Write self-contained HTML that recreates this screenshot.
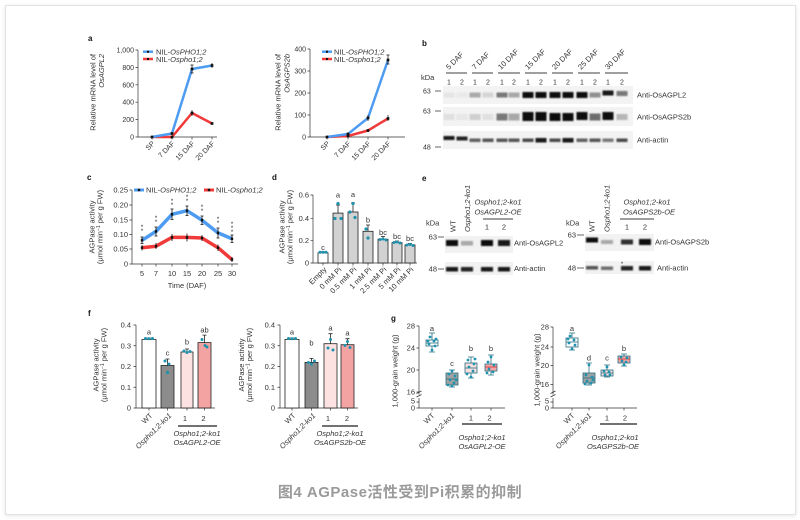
<!DOCTYPE html>
<html><head><meta charset="utf-8">
<style>
html,body{margin:0;padding:0;background:#fff;}
body{width:800px;height:520px;position:relative;overflow:hidden;}
.card{position:absolute;left:5px;top:5px;width:789px;height:508px;border:1px solid #e3e3e3;box-shadow:0 1px 4px rgba(0,0,0,0.10);background:#fff;}
svg{position:absolute;left:0;top:0;}
text{font-family:"Liberation Sans",Arial,sans-serif;fill:#333;}
.tk{font-size:7px;}
.tk2{font-size:7.5px;}
.lg{font-size:7.5px;}
.pl{font-size:8px;font-weight:bold;fill:#111;}
.it{font-style:italic;}
.cap{font-family:"Liberation Sans","Noto Sans CJK SC",sans-serif;font-size:15px;font-weight:bold;fill:#9a9a9a;letter-spacing:0.5px;}
</style></head>
<body>
<div class="card"></div>
<svg width="800" height="520" viewBox="0 0 800 520" xmlns="http://www.w3.org/2000/svg">
<defs>
<filter id="bl" x="-50%" y="-80%" width="200%" height="260%"><feGaussianBlur stdDeviation="0.9"/></filter>
</defs>

<!-- panel labels -->
<text class="pl" x="88" y="41">a</text>
<text class="pl" x="422" y="46">b</text>
<text class="pl" x="87" y="180">c</text>
<text class="pl" x="272" y="180">d</text>
<text class="pl" x="422" y="181">e</text>
<text class="pl" x="88" y="316">f</text>
<text class="pl" x="391" y="321">g</text>

<!-- ===== Panel a left ===== -->
<g stroke="#333" stroke-width="0.7" fill="none">
<path d="M138,50V137H217"/>
<path d="M135.5,50H138M135.5,67.4H138M135.5,84.8H138M135.5,102.2H138M135.5,119.6H138M135.5,137H138"/>
<path d="M152,137v2.5M172,137v2.5M192,137v2.5M212,137v2.5"/>
</g>
<g class="tk" text-anchor="end">
<text x="134" y="52.5">1,000</text><text x="134" y="69.9">800</text><text x="134" y="87.3">600</text>
<text x="134" y="104.7">400</text><text x="134" y="122.1">200</text><text x="134" y="139.5">0</text>
</g>
<text class="tk2" transform="translate(95.5,54) rotate(-90)" text-anchor="end">Relative mRNA level of</text>
<text class="tk2 it" transform="translate(104,54) rotate(-90)" text-anchor="end">OsAGPL2</text>
<polyline points="152,137 172,137 192,113 212,123.5" stroke="#f03a3a" stroke-width="2.5" fill="none" stroke-linejoin="round"/>
<polyline points="152,137 172,133.5 192,69 212,65.5" stroke="#4d9cf2" stroke-width="2.5" fill="none" stroke-linejoin="round"/>
<g fill="#111" stroke="#111" stroke-width="0.7">
<rect x="151" y="136" width="2" height="2"/><rect x="171" y="132.5" width="2" height="2"/><rect x="191" y="68" width="2" height="2"/><rect x="211" y="64.5" width="2" height="2"/>
<rect x="171" y="136" width="2" height="2"/><rect x="191" y="112" width="2" height="2"/><rect x="211" y="122.5" width="2" height="2"/>
<path d="M192,65v8M190.5,65h3M190.5,73h3M192,110v6M212,63v5M192,110h0"/>
</g>
<g class="tk" text-anchor="end">
<text transform="translate(155,144) rotate(-45)">SP</text>
<text transform="translate(175,144) rotate(-45)">7 DAF</text>
<text transform="translate(195,144) rotate(-45)">15 DAF</text>
<text transform="translate(215,144) rotate(-45)">20 DAF</text>
</g>
<line x1="143" y1="51.7" x2="153" y2="51.7" stroke="#4d9cf2" stroke-width="2.5"/>
<rect x="147" y="50.7" width="2" height="2" fill="#111"/>
<text class="lg" x="156" y="54.5">NIL-<tspan class="it">OsPHO1;2</tspan></text>
<line x1="143" y1="59" x2="153" y2="59" stroke="#f03a3a" stroke-width="2.5"/>
<rect x="147" y="58" width="2" height="2" fill="#111"/>
<text class="lg" x="156" y="61.8">NIL-<tspan class="it">Ospho1;2</tspan></text>

<!-- ===== Panel a right ===== -->
<g stroke="#333" stroke-width="0.7" fill="none">
<path d="M310,49V137H405"/>
<path d="M307.5,49H310M307.5,71H310M307.5,93H310M307.5,115H310M307.5,137H310"/>
<path d="M327,137v2.5M348,137v2.5M368,137v2.5M388,137v2.5"/>
</g>
<g class="tk" text-anchor="end">
<text x="306" y="51.5">400</text><text x="306" y="73.5">300</text><text x="306" y="95.5">200</text>
<text x="306" y="117.5">100</text><text x="306" y="139.5">0</text>
</g>
<text class="tk2" transform="translate(280.5,54) rotate(-90)" text-anchor="end">Relative mRNA level of</text>
<text class="tk2 it" transform="translate(289.5,54) rotate(-90)" text-anchor="end">OsAGPS2b</text>
<polyline points="327,137 348,136 368,130.5 388,118.5" stroke="#f03a3a" stroke-width="2.5" fill="none" stroke-linejoin="round"/>
<polyline points="327,137 348,134 368,118 388,60" stroke="#4d9cf2" stroke-width="2.5" fill="none" stroke-linejoin="round"/>
<g fill="#111" stroke="#111" stroke-width="0.7">
<rect x="326" y="136" width="2" height="2"/><rect x="347" y="133" width="2" height="2"/><rect x="367" y="117" width="2" height="2"/><rect x="387" y="59" width="2" height="2"/>
<rect x="347" y="135" width="2" height="2"/><rect x="367" y="129.5" width="2" height="2"/><rect x="387" y="117.5" width="2" height="2"/>
<path d="M388,55v9M386.5,55h3M386.5,64h3M368,115v6M388,115v6"/>
</g>
<g class="tk" text-anchor="end">
<text transform="translate(330,144) rotate(-45)">SP</text>
<text transform="translate(351,144) rotate(-45)">7 DAF</text>
<text transform="translate(371,144) rotate(-45)">15 DAF</text>
<text transform="translate(391,144) rotate(-45)">20 DAF</text>
</g>
<line x1="322" y1="51.7" x2="332" y2="51.7" stroke="#4d9cf2" stroke-width="2.5"/>
<rect x="326" y="50.7" width="2" height="2" fill="#111"/>
<text class="lg" x="334" y="54.5">NIL-<tspan class="it">OsPHO1;2</tspan></text>
<line x1="322" y1="59" x2="332" y2="59" stroke="#f03a3a" stroke-width="2.5"/>
<rect x="326" y="58" width="2" height="2" fill="#111"/>
<text class="lg" x="334" y="61.8">NIL-<tspan class="it">Ospho1;2</tspan></text>

<!-- ===== Panel b ===== -->
<g class="tk2">
<text transform="translate(449,70) rotate(-45)">5 DAF</text>
<text transform="translate(475,70) rotate(-45)">7 DAF</text>
<text transform="translate(501,70) rotate(-45)">10 DAF</text>
<text transform="translate(528,70) rotate(-45)">15 DAF</text>
<text transform="translate(555,70) rotate(-45)">20 DAF</text>
<text transform="translate(581,70) rotate(-45)">25 DAF</text>
<text transform="translate(608,70) rotate(-45)">30 DAF</text>
</g>
<g stroke="#666" stroke-width="1.3">
<path d="M446,73H467M472,73H493M498,73H520M525,73H547M552,73H573M578,73H600M605,73H628"/>
</g>
<text class="tk2" x="421" y="80">kDa</text>
<g class="tk" text-anchor="middle">
<text x="449" y="84.5">1</text><text x="462" y="84.5">2</text><text x="475" y="84.5">1</text><text x="488" y="84.5">2</text>
<text x="502" y="84.5">1</text><text x="514" y="84.5">2</text><text x="528" y="84.5">1</text><text x="541" y="84.5">2</text>
<text x="555" y="84.5">1</text><text x="568" y="84.5">2</text><text x="582" y="84.5">1</text><text x="595" y="84.5">2</text>
<text x="608" y="84.5">1</text><text x="622" y="84.5">2</text>
</g>
<rect x="443" y="86" width="190" height="18" fill="#f3f3f3"/>
<rect x="443" y="107" width="190" height="19" fill="#f3f3f3"/>
<rect x="443" y="131" width="190" height="18" fill="#f3f3f3"/>
<g fill="#111" filter="url(#bl)">
<rect x="443.5" y="92.5" width="11" height="5" fill-opacity="0.06"/>
<rect x="456.5" y="92.5" width="11" height="5" fill-opacity="0.04"/>
<rect x="469.5" y="92.5" width="11" height="5" fill-opacity="0.3"/>
<rect x="482.5" y="92.5" width="11" height="5" fill-opacity="0.12"/>
<rect x="496.5" y="92.5" width="11" height="5" fill-opacity="0.55"/>
<rect x="508.5" y="92.5" width="11" height="5" fill-opacity="0.35"/>
<rect x="522.5" y="92" width="11" height="6" fill-opacity="1"/>
<rect x="535.5" y="92" width="11" height="6" fill-opacity="1"/>
<rect x="549.5" y="92" width="11" height="6" fill-opacity="1"/>
<rect x="562.5" y="92" width="11" height="6" fill-opacity="1"/>
<rect x="576.5" y="92" width="11" height="6" fill-opacity="1"/>
<rect x="589.5" y="92.5" width="11" height="5" fill-opacity="0.45"/>
<rect x="602.5" y="90.5" width="11" height="5" fill-opacity="0.95"/>
<rect x="616.5" y="91" width="11" height="5" fill-opacity="0.55"/>

<rect x="443.5" y="114" width="11" height="6" fill-opacity="0.08"/>
<rect x="456.5" y="114" width="11" height="6" fill-opacity="0.05"/>
<rect x="469.5" y="114" width="11" height="6" fill-opacity="0.15"/>
<rect x="482.5" y="114" width="11" height="6" fill-opacity="0.08"/>
<rect x="496.5" y="113.5" width="11" height="7" fill-opacity="0.55"/>
<rect x="508.5" y="113.5" width="11" height="7" fill-opacity="0.35"/>
<rect x="522.5" y="112" width="11" height="9" fill-opacity="1"/>
<rect x="535.5" y="112" width="11" height="9" fill-opacity="1"/>
<rect x="549.5" y="113" width="11" height="8" fill-opacity="1"/>
<rect x="562.5" y="113" width="11" height="8" fill-opacity="1"/>
<rect x="576.5" y="112" width="11" height="8" fill-opacity="1"/>
<rect x="589.5" y="113.5" width="11" height="7" fill-opacity="0.6"/>
<rect x="602.5" y="112" width="11" height="8" fill-opacity="1"/>
<rect x="616.5" y="114" width="11" height="6" fill-opacity="0.25"/>

<rect x="443.5" y="136" width="11" height="4" fill-opacity="0.95"/>
<rect x="456.5" y="136.5" width="11" height="4" fill-opacity="0.9"/>
<rect x="469.5" y="138.5" width="11" height="3.5" fill-opacity="0.65"/>
<rect x="482.5" y="138.5" width="11" height="3.5" fill-opacity="0.7"/>
<rect x="496.5" y="138.5" width="11" height="3.5" fill-opacity="0.7"/>
<rect x="508.5" y="138.5" width="11" height="3.5" fill-opacity="0.7"/>
<rect x="522.5" y="138.5" width="11" height="3.5" fill-opacity="0.75"/>
<rect x="535.5" y="138" width="11" height="4.5" fill-opacity="0.95"/>
<rect x="549.5" y="138.5" width="11" height="3.5" fill-opacity="0.75"/>
<rect x="562.5" y="138" width="11" height="4.5" fill-opacity="0.95"/>
<rect x="576.5" y="138.5" width="11" height="3.5" fill-opacity="0.65"/>
<rect x="589.5" y="138.5" width="11" height="3.5" fill-opacity="0.7"/>
<rect x="602.5" y="138.5" width="11" height="3.5" fill-opacity="0.55"/>
<rect x="616.5" y="138.5" width="11" height="3.5" fill-opacity="0.75"/>
</g>
<g class="tk">
<text x="423" y="93.5">63</text><text x="423" y="113.5">63</text><text x="423" y="149.5">48</text>
</g>
<g stroke="#333" stroke-width="0.8"><path d="M435,91H441M435,111H441M435,147H441"/></g>
<g class="tk2">
<text x="637" y="97.5">Anti-OsAGPL2</text>
<text x="637" y="119.5">Anti-OsAGPS2b</text>
<text x="637" y="142.5">Anti-actin</text>
</g>

<!-- ===== Panel c ===== -->
<g stroke="#333" stroke-width="0.7" fill="none">
<path d="M132,190V264H238"/>
<path d="M129.5,190H132M129.5,205H132M129.5,220H132M129.5,234.5H132M129.5,249H132M129.5,264H132"/>
<path d="M142,264v2.5M156,264v2.5M172,264v2.5M187,264v2.5M202,264v2.5M218,264v2.5M232,264v2.5"/>
</g>
<g class="tk2" text-anchor="end">
<text x="128" y="192.6">0.25</text><text x="128" y="207.6">0.20</text><text x="128" y="222.6">0.15</text>
<text x="128" y="237.1">0.10</text><text x="128" y="251.6">0.05</text><text x="128" y="266.6">0</text>
</g>
<g class="tk2" text-anchor="middle">
<text x="142" y="276">5</text><text x="156" y="276">7</text><text x="172" y="276">10</text><text x="187" y="276">15</text>
<text x="202" y="276">20</text><text x="218" y="276">25</text><text x="232" y="276">30</text>
<text x="187" y="288">Time (DAF)</text>
<text transform="translate(94.5,227) rotate(-90)">AGPase activity</text>
<text transform="translate(102.5,227) rotate(-90)">(μmol min<tspan dy="-2.5" font-size="5">−1</tspan><tspan dy="2.5"> per g FW)</tspan></text>
</g>
<polyline points="142,247.7 156,246.2 172,237.4 187,237.4 202,238 218,247.7 232,259.6" stroke="#f03a3a" stroke-width="3.5" fill="none" stroke-linejoin="round"/>
<polyline points="142,240.3 156,231.4 172,214.3 187,210.7 202,220.2 218,232.9 232,238.8" stroke="#4d9cf2" stroke-width="3.5" fill="none" stroke-linejoin="round"/>
<g stroke="#111" stroke-width="0.8">
<path d="M142,237v6.5M156,227v9M172,209v10.5M187,206v9.5M202,216v8.5M218,228v10M232,235v7.5"/>
<path d="M142,245v5.5M156,243v6M172,234v7M187,233.5v8M202,235v6M218,244.5v6.5M232,257v5"/>
<path d="M140.5,237h3M140.5,243.5h3M154.5,227h3M154.5,236h3M170.5,209h3M170.5,219.5h3M185.5,206h3M185.5,215.5h3M200.5,216h3M200.5,224.5h3M216.5,228h3M216.5,238h3M230.5,235h3M230.5,242.5h3"/>
</g>
<g fill="#111">
<rect x="140.8" y="239.1" width="2.4" height="2.4"/><rect x="154.8" y="230.2" width="2.4" height="2.4"/><rect x="170.8" y="213.1" width="2.4" height="2.4"/><rect x="185.8" y="209.5" width="2.4" height="2.4"/><rect x="200.8" y="219" width="2.4" height="2.4"/><rect x="216.8" y="231.7" width="2.4" height="2.4"/><rect x="230.8" y="237.6" width="2.4" height="2.4"/>
<rect x="140.8" y="246.5" width="2.4" height="2.4"/><rect x="154.8" y="245" width="2.4" height="2.4"/><rect x="170.8" y="236.2" width="2.4" height="2.4"/><rect x="185.8" y="236.2" width="2.4" height="2.4"/><rect x="200.8" y="236.8" width="2.4" height="2.4"/><rect x="216.8" y="246.5" width="2.4" height="2.4"/><rect x="230.8" y="258.4" width="2.4" height="2.4"/>
</g>
<g font-size="6.5" text-anchor="middle" fill="#333">
<text x="142" y="229">*</text><text x="142" y="233">*</text>
<text x="156" y="220">*</text><text x="156" y="224">*</text>
<text x="172" y="203">*</text><text x="172" y="207">*</text>
<text x="187" y="199">*</text><text x="187" y="203">*</text>
<text x="202" y="209">*</text><text x="202" y="213">*</text>
<text x="218" y="221">*</text><text x="218" y="225">*</text>
<text x="232" y="226">*</text><text x="232" y="230">*</text><text x="232" y="234">*</text>
</g>
<line x1="134" y1="190" x2="144" y2="190" stroke="#4d9cf2" stroke-width="3"/>
<rect x="137.8" y="188.8" width="2.4" height="2.4" fill="#111"/>
<text class="lg" x="146" y="192.7">NIL-<tspan class="it">OsPHO1;2</tspan></text>
<line x1="204" y1="190" x2="214" y2="190" stroke="#f03a3a" stroke-width="3"/>
<rect x="207.8" y="188.8" width="2.4" height="2.4" fill="#111"/>
<text class="lg" x="216" y="192.7">NIL-<tspan class="it">Ospho1;2</tspan></text>

<!-- ===== Panel d ===== -->
<g stroke="#333" stroke-width="0.7" fill="none">
<path d="M313,195V263H417"/>
<path d="M310.5,195H313M310.5,218.3H313M310.5,240.3H313M310.5,263H313"/>
<path d="M323,263v2.5M338,263v2.5M353,263v2.5M368,263v2.5M383,263v2.5M397,263v2.5M410,263v2.5"/>
</g>
<g class="tk2" text-anchor="end">
<text x="309" y="197.6">0.6</text><text x="309" y="220.9">0.4</text><text x="309" y="242.9">0.2</text><text x="309" y="265.6">0</text>
</g>
<g class="tk2" text-anchor="middle">
<text transform="translate(284.5,227) rotate(-90)">AGPase activity</text>
<text transform="translate(292.5,227) rotate(-90)">(μmol min<tspan dy="-2.5" font-size="5">−1</tspan><tspan dy="2.5"> per g FW)</tspan></text>
</g>
<g stroke="#222" stroke-width="0.8">
<rect x="318" y="252.8" width="10" height="10.2" fill="#fff"/>
<rect x="333" y="213.1" width="10" height="49.9" fill="#d2d2d2"/>
<rect x="348" y="212" width="10" height="51" fill="#d2d2d2"/>
<rect x="363" y="231.3" width="10" height="31.7" fill="#d2d2d2"/>
<rect x="378" y="239.2" width="10" height="23.8" fill="#d2d2d2"/>
<rect x="392" y="242.6" width="10" height="20.4" fill="#d2d2d2"/>
<rect x="405" y="244.9" width="10" height="18.1" fill="#d2d2d2"/>
<path d="M338,213v-8M336,205h4M353,212v-9M351,203h4M368,231v-6M366,225h4M383,239v-2.5M381,236.5h4M397,242.5v-1.5M395,241h4M410,245v-1.5M408,243.5h4M323,252.8v-1M321,251.8h4"/>
</g>
<g fill="#1f93ad">
<circle cx="320" cy="252.3" r="1.5"/><circle cx="323" cy="252.3" r="1.5"/><circle cx="326" cy="252.3" r="1.5"/>
<circle cx="338" cy="203.5" r="1.6"/><circle cx="335" cy="218.5" r="1.6"/><circle cx="341" cy="218.5" r="1.6"/>
<circle cx="353" cy="203.5" r="1.6"/><circle cx="350" cy="212" r="1.6"/><circle cx="355" cy="217.5" r="1.6"/>
<circle cx="366" cy="229" r="1.6"/><circle cx="368" cy="238" r="1.6"/>
<circle cx="380" cy="239.5" r="1.5"/><circle cx="383" cy="239" r="1.5"/><circle cx="386" cy="240" r="1.5"/>
<circle cx="394" cy="242.5" r="1.5"/><circle cx="397" cy="242" r="1.5"/><circle cx="400" cy="243" r="1.5"/>
<circle cx="407" cy="245" r="1.5"/><circle cx="410" cy="244.5" r="1.5"/><circle cx="413" cy="245.5" r="1.5"/>
</g>
<g class="tk2" text-anchor="middle">
<text x="323" y="250">c</text><text x="338" y="197.5">a</text><text x="353" y="197">a</text><text x="368" y="222.5">b</text>
<text x="383" y="235">bc</text><text x="397" y="239">bc</text><text x="410" y="241">bc</text>
</g>
<g class="tk2" text-anchor="end">
<text transform="translate(327,270) rotate(-45)">Empty</text>
<text transform="translate(342,270) rotate(-45)">0 mM Pi</text>
<text transform="translate(357,270) rotate(-45)">0.5 mM Pi</text>
<text transform="translate(372,270) rotate(-45)">1 mM Pi</text>
<text transform="translate(387,270) rotate(-45)">2.5 mM Pi</text>
<text transform="translate(401,270) rotate(-45)">5 mM Pi</text>
<text transform="translate(414,270) rotate(-45)">10 mM Pi</text>
</g>

<!-- ===== Panel e left ===== -->
<text class="tk2" x="426" y="225.5">kDa</text>
<text class="tk2" transform="translate(455.5,232) rotate(-90)">WT</text>
<text class="tk2 it" transform="translate(470,232) rotate(-90)">Ospho1;2-ko1</text>
<text class="tk2 it" x="498" y="204.5" text-anchor="middle">Ospho1;2-ko1</text>
<text class="tk2 it" x="498" y="214.5" text-anchor="middle">OsAGPL2-OE</text>
<line x1="483" y1="219" x2="513" y2="219" stroke="#666" stroke-width="1.2"/>
<text class="tk2" x="487" y="229.5" text-anchor="middle">1</text>
<text class="tk2" x="504" y="229.5" text-anchor="middle">2</text>
<rect x="445" y="236" width="68" height="17" fill="#f2f2f2"/>
<rect x="445" y="262" width="68" height="13" fill="#f2f2f2"/>
<g fill="#111" filter="url(#bl)">
<rect x="446" y="240" width="12" height="6" fill-opacity="1"/>
<rect x="461" y="241" width="12" height="4.5" fill-opacity="0.3"/>
<rect x="481" y="240" width="12" height="6" fill-opacity="1"/>
<rect x="498" y="240" width="12" height="6" fill-opacity="0.95"/>
<rect x="446" y="267" width="12" height="4.5" fill-opacity="0.95"/>
<rect x="461" y="267" width="12" height="4.5" fill-opacity="0.9"/>
<rect x="481" y="267" width="12" height="4.5" fill-opacity="0.95"/>
<rect x="498" y="267" width="12" height="4.5" fill-opacity="0.95"/>
</g>
<g class="tk2" text-anchor="end"><text x="437" y="239.5">63</text><text x="437" y="271.5">48</text></g>
<g stroke="#333" stroke-width="0.8"><path d="M438,237H444M438,269H444"/></g>
<text class="tk2" x="514" y="245.5">Anti-OsAGPL2</text>
<text class="tk2" x="514" y="271">Anti-actin</text>

<!-- ===== Panel e right ===== -->
<text class="tk2" x="566" y="225.5">kDa</text>
<text class="tk2" transform="translate(594.5,232) rotate(-90)">WT</text>
<text class="tk2 it" transform="translate(609.5,232) rotate(-90)">Ospho1;2-ko1</text>
<text class="tk2 it" x="647" y="204.5" text-anchor="middle">Ospho1;2-ko1</text>
<text class="tk2 it" x="649" y="214.5" text-anchor="middle">OsAGPS2b-OE</text>
<line x1="620" y1="219" x2="654" y2="219" stroke="#666" stroke-width="1.2"/>
<text class="tk2" x="627" y="229.5" text-anchor="middle">1</text>
<text class="tk2" x="645" y="229.5" text-anchor="middle">2</text>
<rect x="585" y="234" width="69" height="17" fill="#f2f2f2"/>
<rect x="585" y="261" width="69" height="13" fill="#f2f2f2"/>
<g fill="#111" filter="url(#bl)">
<rect x="586" y="237.5" width="12" height="5" fill-opacity="1"/>
<rect x="601" y="240" width="12" height="4" fill-opacity="0.3"/>
<rect x="621" y="239.5" width="12" height="5" fill-opacity="0.85"/>
<rect x="639" y="239" width="12" height="6" fill-opacity="1"/>
<rect x="586" y="266" width="12" height="3.5" fill-opacity="0.7"/>
<rect x="601" y="266.5" width="12" height="3.5" fill-opacity="0.6"/>
<rect x="621" y="266" width="12" height="4.5" fill-opacity="0.9"/>
<rect x="639" y="266" width="12" height="4.5" fill-opacity="0.95"/>
</g>
<text x="622" y="266" font-size="6" text-anchor="middle">*</text>
<g class="tk2" text-anchor="end"><text x="576" y="237.5">63</text><text x="576" y="270.5">48</text></g>
<g stroke="#333" stroke-width="0.8"><path d="M577,235H584M577,268H584"/></g>
<text class="tk2" x="655" y="244.5">Anti-OsAGPS2b</text>
<text class="tk2" x="657" y="270.5">Anti-actin</text>

<!-- ===== Panel f left ===== -->
<g stroke="#333" stroke-width="0.7" fill="none">
<path d="M136,325V408H215"/>
<path d="M133.5,325H136M133.5,345.75H136M133.5,366.5H136M133.5,387.25H136M133.5,408H136"/>
<path d="M149,408v2.5M167.5,408v2.5M187,408v2.5M204.5,408v2.5"/>
</g>
<g class="tk2" text-anchor="end">
<text x="131" y="327.6">0.4</text><text x="131" y="348.4">0.3</text><text x="131" y="369.1">0.2</text><text x="131" y="389.9">0.1</text><text x="131" y="410.6">0</text>
</g>
<g class="tk2" text-anchor="middle">
<text transform="translate(98.5,365) rotate(-90)">AGPase activity</text>
<text transform="translate(106.5,365) rotate(-90)">(μmol min<tspan dy="-2.5" font-size="5">−1</tspan><tspan dy="2.5"> per g FW)</tspan></text>
</g>
<g stroke="#222" stroke-width="0.8">
<rect x="142" y="339.5" width="14" height="68.5" fill="#fff"/>
<rect x="161" y="365.5" width="13" height="42.5" fill="#8c8c8c"/>
<rect x="181" y="352" width="12" height="56" fill="#fde2e2"/>
<rect x="198" y="342.6" width="13" height="65.4" fill="#f4a3a3"/>
<path d="M149,339.5v-1.5M147,338h4M167.5,365.5v-6.5M165.5,359h4M187,352v-3M185,349h4M204.5,342.6v-7.5M202.5,335.1h4"/>
</g>
<g fill="#1f93ad">
<circle cx="145.5" cy="338.5" r="1.5"/><circle cx="149" cy="338.8" r="1.5"/><circle cx="152.5" cy="338.5" r="1.5"/>
<circle cx="165" cy="361" r="1.5"/><circle cx="169" cy="364" r="1.5"/><circle cx="167.5" cy="372.5" r="1.6"/>
<circle cx="184" cy="351" r="1.5"/><circle cx="187" cy="352.5" r="1.5"/><circle cx="190" cy="351.5" r="1.5"/>
<circle cx="202" cy="339.5" r="1.5"/><circle cx="205" cy="345.5" r="1.5"/><circle cx="207" cy="347" r="1.5"/>
</g>
<g class="tk2" text-anchor="middle">
<text x="149" y="334.5">a</text><text x="167.5" y="355.5">c</text><text x="187" y="344.5">b</text><text x="204.5" y="332.5">ab</text>
<text x="185" y="421">1</text><text x="203.5" y="421">2</text>
<text class="it" x="197" y="436">Ospho1;2-ko1</text>
<text class="it" x="197" y="445">OsAGPL2-OE</text>
</g>
<g class="tk2" text-anchor="end">
<text transform="translate(153,416) rotate(-45)">WT</text>
<text class="it" transform="translate(172,416) rotate(-45)">Ospho1;2-ko1</text>
</g>
<line x1="178" y1="426" x2="217" y2="426" stroke="#444" stroke-width="1.6"/>

<!-- ===== Panel f right ===== -->
<g stroke="#333" stroke-width="0.7" fill="none">
<path d="M280,325V408H358"/>
<path d="M277.5,325H280M277.5,345.75H280M277.5,366.5H280M277.5,387.25H280M277.5,408H280"/>
<path d="M292,408v2.5M311.5,408v2.5M330.5,408v2.5M347.5,408v2.5"/>
</g>
<g class="tk2" text-anchor="end">
<text x="275" y="327.6">0.4</text><text x="275" y="348.4">0.3</text><text x="275" y="369.1">0.2</text><text x="275" y="389.9">0.1</text><text x="275" y="410.6">0</text>
</g>
<g class="tk2" text-anchor="middle">
<text transform="translate(244,365) rotate(-90)">AGPase activity</text>
<text transform="translate(252,365) rotate(-90)">(μmol min<tspan dy="-2.5" font-size="5">−1</tspan><tspan dy="2.5"> per g FW)</tspan></text>
</g>
<g stroke="#222" stroke-width="0.8">
<rect x="285" y="339.5" width="14" height="68.5" fill="#fff"/>
<rect x="305" y="362.4" width="13" height="45.6" fill="#8c8c8c"/>
<rect x="324" y="343.7" width="13" height="64.3" fill="#fde2e2"/>
<rect x="341" y="344.7" width="13" height="63.3" fill="#f4a3a3"/>
<path d="M292,339.5v-1.5M290,338h4M311.5,362.4v-4M309.5,358.4h4M330.5,343.7v-10M328.5,333.7h4M347.5,344.7v-6M345.5,338.7h4"/>
</g>
<g fill="#1f93ad">
<circle cx="288.5" cy="338.5" r="1.5"/><circle cx="292" cy="338.8" r="1.5"/><circle cx="295.5" cy="338.5" r="1.5"/>
<circle cx="308.5" cy="362.5" r="1.5"/><circle cx="311.5" cy="364" r="1.5"/><circle cx="314.5" cy="361" r="1.5"/>
<circle cx="330.5" cy="339.5" r="1.5"/><circle cx="328" cy="348" r="1.5"/><circle cx="333" cy="350" r="1.5"/>
<circle cx="347.5" cy="341.5" r="1.5"/><circle cx="345" cy="345.5" r="1.5"/><circle cx="350" cy="347.5" r="1.5"/>
</g>
<g class="tk2" text-anchor="middle">
<text x="292" y="334.5">a</text><text x="311.5" y="345.5">b</text><text x="330.5" y="330.5">a</text><text x="347.5" y="335.5">a</text>
<text x="328" y="421">1</text><text x="347" y="421">2</text>
<text class="it" x="340" y="436">Ospho1;2-ko1</text>
<text class="it" x="340" y="445">OsAGPS2b-OE</text>
</g>
<g class="tk2" text-anchor="end">
<text transform="translate(296,416) rotate(-45)">WT</text>
<text class="it" transform="translate(316,416) rotate(-45)">Ospho1;2-ko1</text>
</g>
<line x1="322" y1="426" x2="358" y2="426" stroke="#444" stroke-width="1.6"/>

<!-- ===== Panel g left ===== -->
<g stroke="#333" stroke-width="0.7" fill="none">
<path d="M419,326V394.5"/>
<path d="M419,398V408H505"/>
<path d="M416.5,393.5l5,-2.5M416.5,397l5,-2.5"/>
<path d="M416.5,326H419M416.5,348H419M416.5,370H419M416.5,392H419M416.5,402H419M416.5,408H419"/>
<path d="M432,408v2.5M452,408v2.5M471,408v2.5M491,408v2.5"/>
</g>
<g class="tk2" text-anchor="end">
<text x="415" y="328.6">28</text><text x="415" y="350.6">24</text><text x="415" y="372.6">20</text><text x="415" y="394.6">16</text>
<text x="415" y="403.5">5</text><text x="415" y="410.6">0</text>
</g>
<text class="tk2" transform="translate(397.5,371) rotate(-90)" text-anchor="middle">1,000-grain weight (g)</text>
<g stroke="#2a6e80" stroke-width="0.8">
<path d="M432,333v7M432,346v6M429,333h6M429,352h6"/>
<rect x="426" y="340" width="12" height="6" fill="#fff"/>
<path d="M426,343h12"/>
<path d="M452,370v3M452,385v2M449,370h6M449,387h6"/>
<rect x="446" y="373" width="12" height="12" fill="#a2a2a2"/>
<path d="M446,379h12"/>
<path d="M471,357v6M471,373v5M468,357h6M468,378h6"/>
<rect x="465" y="363" width="12" height="10" fill="#f9dede"/>
<path d="M465,368h12"/>
<path d="M491,355v9M491,371v4M488,355h6M488,375h6"/>
<rect x="485" y="364" width="12" height="7" fill="#f4a8a8"/>
<path d="M485,367h12" stroke="#d03030"/>
</g>
<g fill="#1f93ad">
<circle cx="430" cy="337" r="1.4"/><circle cx="434" cy="341" r="1.4"/><circle cx="429" cy="344" r="1.4"/><circle cx="435" cy="346" r="1.4"/><circle cx="432" cy="350" r="1.4"/><circle cx="436" cy="339" r="1.4"/><circle cx="428" cy="341" r="1.4"/>
<circle cx="449" cy="374" r="1.4"/><circle cx="455" cy="376" r="1.4"/><circle cx="450" cy="380" r="1.4"/><circle cx="454" cy="383" r="1.4"/><circle cx="448" cy="385" r="1.4"/><circle cx="452" cy="386" r="1.4"/><circle cx="456" cy="380" r="1.4"/><circle cx="452" cy="371" r="1.4"/>
<circle cx="468" cy="360" r="1.4"/><circle cx="474" cy="364" r="1.4"/><circle cx="469" cy="367" r="1.4"/><circle cx="473" cy="371" r="1.4"/><circle cx="467" cy="374" r="1.4"/><circle cx="471" cy="377" r="1.4"/><circle cx="475" cy="359" r="1.4"/>
<circle cx="488" cy="362" r="1.4"/><circle cx="494" cy="365" r="1.4"/><circle cx="489" cy="369" r="1.4"/><circle cx="493" cy="372" r="1.4"/><circle cx="491" cy="357" r="1.4"/><circle cx="487" cy="373" r="1.4"/>
</g>
<g class="tk2" text-anchor="middle">
<text x="432" y="331">a</text><text x="452" y="366">c</text><text x="471" y="351">b</text><text x="491" y="351">b</text>
<text x="471" y="420.5">1</text><text x="489.5" y="420.5">2</text>
<text class="it" x="482" y="440">Ospho1;2-ko1</text>
<text class="it" x="482" y="449">OsAGPL2-OE</text>
</g>
<g class="tk2" text-anchor="end">
<text transform="translate(435,416) rotate(-45)">WT</text>
<text class="it" transform="translate(455,416) rotate(-45)">Ospho1;2-ko1</text>
</g>
<line x1="462" y1="424" x2="502" y2="424" stroke="#444" stroke-width="1.6"/>

<!-- ===== Panel g right ===== -->
<g stroke="#333" stroke-width="0.7" fill="none">
<path d="M553,327V394.5"/>
<path d="M553,398V408H637"/>
<path d="M550.5,393.5l5,-2.5M550.5,397l5,-2.5"/>
<path d="M550.5,327H553M550.5,347H553M550.5,365.5H553M550.5,384.5H553M550.5,402H553M550.5,408H553"/>
<path d="M572,408v2.5M589,408v2.5M607,408v2.5M624,408v2.5"/>
</g>
<g class="tk2" text-anchor="end">
<text x="549" y="329.6">28</text><text x="549" y="349.6">24</text><text x="549" y="368.1">20</text><text x="549" y="387.1">16</text>
<text x="549" y="403.5">5</text><text x="549" y="410.6">0</text>
</g>
<text class="tk2" transform="translate(539.5,370) rotate(-90)" text-anchor="middle">1,000-grain weight (g)</text>
<g stroke="#2a6e80" stroke-width="0.8">
<path d="M572,333v5M572,347v3M569,333h6M569,350h6"/>
<rect x="566" y="338" width="12" height="9" fill="#fff"/>
<path d="M566,342h12"/>
<path d="M589,363v10M589,383v2M586,363h6M586,385h6"/>
<rect x="583" y="373" width="12" height="10" fill="#a2a2a2"/>
<path d="M583,378h12"/>
<path d="M607,365v5M607,376v1M604,365h6M604,377h6"/>
<rect x="601" y="370" width="12" height="6" fill="#f9dede"/>
<path d="M601,373h12"/>
<path d="M624,354v2M624,363v3M621,354h6M621,366h6"/>
<rect x="618" y="356" width="12" height="7" fill="#f4a8a8"/>
<path d="M618,359h12" stroke="#d03030"/>
</g>
<g fill="#1f93ad">
<circle cx="570" cy="336" r="1.4"/><circle cx="574" cy="340" r="1.4"/><circle cx="569" cy="343" r="1.4"/><circle cx="575" cy="345" r="1.4"/><circle cx="572" cy="349" r="1.4"/><circle cx="568" cy="339" r="1.4"/>
<circle cx="586" cy="375" r="1.4"/><circle cx="592" cy="377" r="1.4"/><circle cx="587" cy="381" r="1.4"/><circle cx="591" cy="383" r="1.4"/><circle cx="589" cy="365" r="1.4"/><circle cx="585" cy="384" r="1.4"/><circle cx="593" cy="380" r="1.4"/>
<circle cx="604" cy="371" r="1.4"/><circle cx="609" cy="372" r="1.4"/><circle cx="605" cy="375" r="1.4"/><circle cx="610" cy="375" r="1.4"/><circle cx="607" cy="367" r="1.4"/>
<circle cx="621" cy="357" r="1.4"/><circle cx="627" cy="358" r="1.4"/><circle cx="622" cy="361" r="1.4"/><circle cx="626" cy="362" r="1.4"/><circle cx="624" cy="365" r="1.4"/>
</g>
<g class="tk2" text-anchor="middle">
<text x="572" y="331">a</text><text x="589" y="360.5">d</text><text x="607" y="360.5">c</text><text x="624" y="351">b</text>
<text x="607" y="420.5">1</text><text x="625" y="420.5">2</text>
<text class="it" x="615" y="440">Ospho1;2-ko1</text>
<text class="it" x="613" y="449">OsAGPS2b-OE</text>
</g>
<g class="tk2" text-anchor="end">
<text transform="translate(575,416) rotate(-45)">WT</text>
<text class="it" transform="translate(592,416) rotate(-45)">Ospho1;2-ko1</text>
</g>
<line x1="600" y1="424" x2="637" y2="424" stroke="#444" stroke-width="1.6"/>

<!-- caption -->
<text class="cap" x="400" y="497" text-anchor="middle">图4  AGPase活性受到Pi积累的抑制</text>
</svg>
</body></html>
